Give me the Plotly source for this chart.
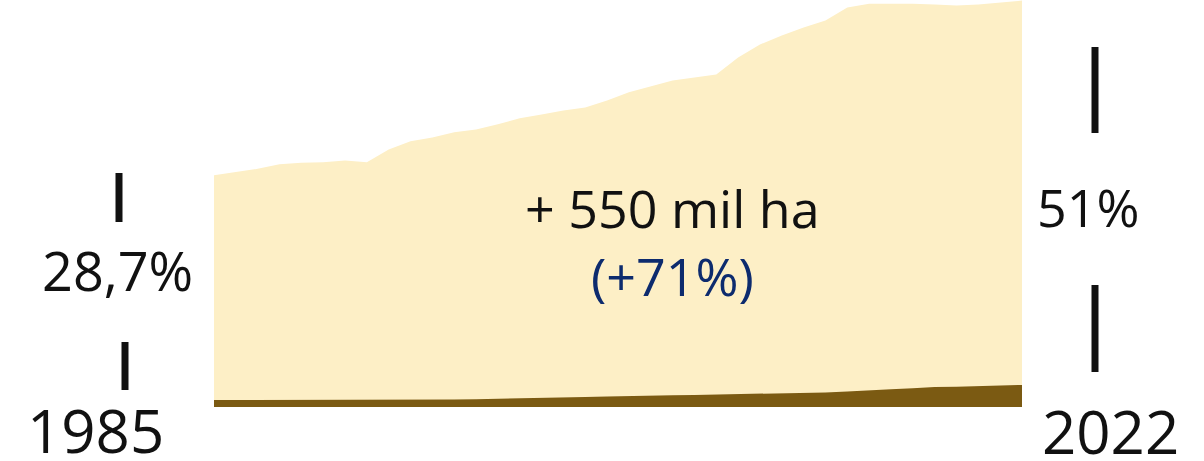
import plotly.graph_objects as go

# data (mil ha)
years = list(range(1985, 2023))
area_total = [766, 776, 787, 802, 807, 809, 815, 809, 851, 878,
              891, 908, 917, 934, 954, 967, 980, 990, 1013, 1040,
              1059, 1079, 1089, 1099, 1155, 1198, 1228, 1254, 1277, 1320,
              1333, 1333, 1333, 1330, 1327, 1330, 1337, 1343]
area_base = [23, 23, 23, 23, 23, 23, 24, 24, 24, 25,
             25, 25, 26, 27, 28, 30, 31, 33, 35, 37,
             38, 39, 40, 41, 42, 43, 44, 46, 48, 51,
             56, 59, 62, 66, 67, 69, 71, 73]

start_label, end_label = "1985", "2022"
start_share, end_share = "28,7%", "51%"
growth_text = "+ 550 mil ha"
growth_pct = "(+71%)"

W, H = 1204, 461
L, R, T, B = 214, 182, 0, 54
pw, ph = W - L - R, H - T - B


def px(x, y):
    # pixel position -> paper coords
    return (x - L) / pw, (H - B - y) / ph


FONT = "Open Sans"

fig = go.Figure()

fig.add_trace(go.Scatter(
    x=years, y=area_total,
    mode="lines",
    line=dict(width=0, color="#FDEFC6"),
    fill="tozeroy",
    fillcolor="#FDEFC6",
    hoverinfo="skip",
    showlegend=False,
))

fig.add_trace(go.Scatter(
    x=years, y=area_base,
    mode="lines",
    line=dict(width=0, color="#7B5A12"),
    fill="tozeroy",
    fillcolor="#7B5A12",
    hoverinfo="skip",
    showlegend=False,
))

annotations = []


def label(text, x, y, size, color="#111111"):
    ax, ay = px(x, y)
    annotations.append(dict(
        x=ax, y=ay, xref="paper", yref="paper",
        text=text, showarrow=False,
        xanchor="center", yanchor="middle",
        font=dict(family=FONT, size=size, color=color),
    ))


label(start_label, 95, 430, 60)
label(end_label, 1110, 431, 60)
label(start_share, 117, 270, 54)
label(end_share, 1088, 206, 52)
label(growth_text + "<br><span style='color:#0D2B6E'>" + growth_pct + "</span>",
      672, 242, 52)

shapes = []
for x, y0, y1 in [(119, 173, 222), (125, 342, 390), (1095, 47, 133), (1095, 285, 372)]:
    sx, sy0 = px(x, y1)
    _, sy1 = px(x, y0)
    shapes.append(dict(
        type="line", xref="paper", yref="paper",
        x0=sx, x1=sx, y0=sy0, y1=sy1,
        line=dict(color="#111111", width=7),
    ))

fig.update_layout(
    width=W, height=H,
    margin=dict(l=L, r=R, t=T, b=B),
    paper_bgcolor="white",
    plot_bgcolor="white",
    xaxis=dict(range=[1985, 2022], visible=False, fixedrange=True),
    yaxis=dict(range=[0, 1345], visible=False, fixedrange=True),
    annotations=annotations,
    shapes=shapes,
    showlegend=False,
)

fig.write_html("out.html", config={"displayModeBar": False},
               post_script="document.body.style.margin='0';")
